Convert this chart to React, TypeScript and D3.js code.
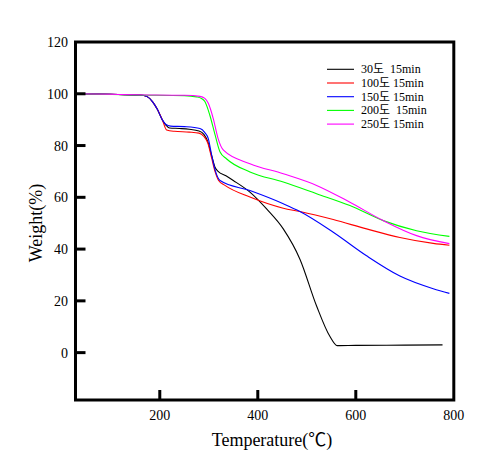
import React from "react";
import * as d3 from "d3";

const seriesNames = ["30도  15min", "100도 15min", "150도 15min", "200도  15min", "250도 15min"];
const seriesColors = ["#000000", "#ff0000", "#0000ff", "#00ff00", "#ff00ff"];

const t30 = [30, 100, 160, 175, 185, 195, 205, 212, 220, 240, 260, 280, 290, 298, 306, 313, 319, 335, 350, 384, 418, 452, 486, 520, 547, 562, 600, 700, 777];
const w30 = [100, 99.8, 99.5, 98.8, 97, 94, 90, 88, 86.8, 86.6, 86.3, 85.6, 84.3, 81.5, 76, 71.5, 70, 68.3, 66.5, 62, 55.5, 47.8, 36.1, 18, 6.3, 2.7, 2.8, 2.9, 3.0];

const t100 = [30, 100, 160, 175, 185, 195, 205, 214, 230, 260, 280, 290, 298, 306, 313, 320, 333, 384, 452, 486, 554, 622, 690, 758, 791];
const w100 = [100, 99.8, 99.5, 98.8, 97, 94, 90, 86, 85.5, 85.2, 84.8, 83.5, 81, 75, 69.8, 66.5, 64.6, 60.1, 55.8, 54.5, 51.4, 47.8, 44.5, 42.2, 41.5];

const t150 = [30, 100, 160, 175, 185, 195, 205, 212, 222, 250, 282, 292, 299, 306, 313, 323, 384, 452, 486, 554, 622, 690, 758, 791];
const w150 = [100, 99.8, 99.5, 98.8, 97, 94, 90, 88.2, 87.5, 87.3, 86.6, 85, 82.7, 76.2, 70.5, 66.5, 62.6, 57.5, 54.5, 46.5, 37.4, 29.6, 24.7, 22.9];

const t200 = [30, 150, 250, 275, 285, 292, 302, 313, 323, 336, 384, 452, 520, 588, 656, 724, 791];
const w200 = [100, 99.5, 99.3, 98.8, 98.2, 97, 91.8, 84, 77.5, 74.9, 69.8, 65.9, 61.4, 56.8, 51, 47.1, 44.9];

const t250 = [30, 150, 250, 282, 292, 299, 309, 319, 330, 384, 452, 520, 588, 656, 724, 791];
const w250 = [100, 99.6, 99.4, 99, 98.2, 96.3, 90.5, 82.7, 78.2, 73, 69.1, 64.6, 58.1, 51, 45.2, 42.1];

const xTicks = [200, 400, 600, 800];
const yTicks = [0, 20, 40, 60, 80, 100, 120];

const seriesT = [t30, t100, t150, t200, t250];
const seriesW = [w30, w100, w150, w200, w250];

export default function App() {
  const W = 488, H = 466;
  const x = d3.scaleLinear().domain([28, 800]).range([75.5, 453.8]);
  const y = d3.scaleLinear().domain([-18.3, 120]).range([400, 42]);
  const line = d3
    .line<[number, number]>()
    .x((d) => x(d[0]))
    .y((d) => y(d[1]))
    .curve(d3.curveMonotoneX);
  const serif = "'Liberation Serif', 'Times New Roman', 'Noto Sans CJK KR', serif";
  const [x0, x1] = x.range();
  const [yb, yt] = y.range();

  return (
    <svg width={W} height={H} style={{ position: "absolute", left: 0, top: 0, background: "#fff" }}>
      <rect x={0} y={0} width={W} height={H} fill="#fff" />
      {seriesT.map((ts, i) => (
        <path
          key={i}
          d={line(ts.map((t, j) => [t, seriesW[i][j]] as [number, number])) || ""}
          fill="none"
          stroke={seriesColors[i]}
          strokeWidth={1.1}
        />
      ))}
      <rect x={x0} y={yt} width={x1 - x0} height={yb - yt} fill="none" stroke="#000" strokeWidth={3} />
      {yTicks.map((v) => (
        <g key={"y" + v}>
          {v < 120 && <line x1={x0} x2={x0 + 10} y1={y(v)} y2={y(v)} stroke="#000" strokeWidth={3} />}
          <text x={68} y={y(v) + 5} textAnchor="end" fontFamily={serif} fontSize={14}>
            {v}
          </text>
        </g>
      ))}
      {xTicks.map((v) => (
        <g key={"x" + v}>
          {v < 800 && <line x1={x(v)} x2={x(v)} y1={yb} y2={yb - 10} stroke="#000" strokeWidth={3} />}
          <text x={x(v)} y={420} textAnchor="middle" fontFamily={serif} fontSize={14}>
            {v}
          </text>
        </g>
      ))}
      <text x={272} y={446} textAnchor="middle" fontFamily={serif} fontSize={18}>
        Temperature(℃)
      </text>
      <text
        transform={`translate(42,${223}) rotate(-90)`}
        textAnchor="middle"
        fontFamily={serif}
        fontSize={18}
      >
        Weight(%)
      </text>
      {seriesNames.map((n, i) => {
        const ly = 69.3 + i * 13.7;
        return (
          <g key={"l" + i}>
            <line x1={327} x2={354} y1={ly} y2={ly} stroke={seriesColors[i]} strokeWidth={1.1} />
            <text x={361} y={ly + 4} fontFamily={serif} fontSize={12} style={{ whiteSpace: "pre" }}>
              {n}
            </text>
          </g>
        );
      })}
    </svg>
  );
}
